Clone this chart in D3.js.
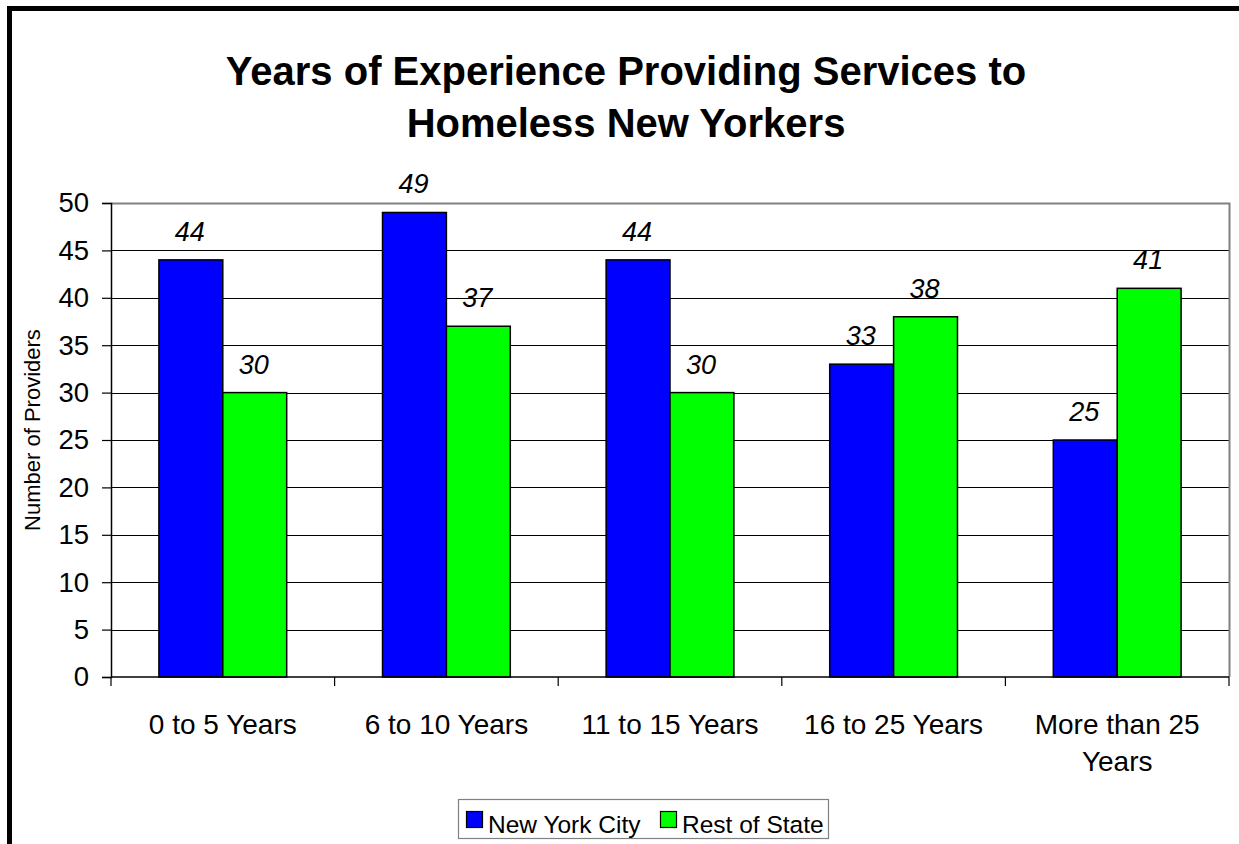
<!DOCTYPE html>
<html>
<head>
<meta charset="utf-8">
<script src="https://cdn.jsdelivr.net/npm/d3@7"></script>
<style>
  html, body { margin: 0; padding: 0; background: #fff; }
  svg { display: block; font-family: "Liberation Sans", Arial, sans-serif; }
</style>
</head>
<body>
<svg id="chart" width="1239" height="844"></svg>
<script>
// Data
const categories = ["0 to 5 Years", "6 to 10 Years", "11 to 15 Years", "16 to 25 Years", "More than 25 Years"];
const seriesNames = ["New York City", "Rest of State"];
const nycValues = [44, 49, 44, 33, 25];
const restValues = [30, 37, 30, 38, 41];
const yTicks = [0, 5, 10, 15, 20, 25, 30, 35, 40, 45, 50];
const titleLines = ["Years of Experience Providing Services to", "Homeless New Yorkers"];
const yAxisTitle = "Number of Providers";

const seriesColors = ["#0000FF", "#00FF00"];
const seriesValues = [nycValues, restValues];

const svg = d3.select("#chart");

// Outer frame
svg.append("rect")
  .attr("x", 9.5).attr("y", 8.5)
  .attr("width", 1300).attr("height", 900)
  .attr("fill", "#fff").attr("stroke", "#000").attr("stroke-width", 5);

// Plot area geometry
const plot = { left: 111, right: 1229, top: 203, bottom: 677 };

const x = d3.scaleBand().domain(categories).range([plot.left, plot.right]).paddingInner(0).paddingOuter(0);
const y = d3.scaleLinear().domain([0, 50]).range([plot.bottom, plot.top]);

// Two bars per category with a 150% gap width
const barW = x.bandwidth() / 3.5;
const xSub = d3.scaleBand().domain(seriesNames)
  .range([(x.bandwidth() - 2 * barW) / 2, (x.bandwidth() + 2 * barW) / 2]);

// Title
svg.append("g").selectAll("text").data(titleLines).join("text")
  .attr("x", 626).attr("y", (d, i) => 85 + i * 52)
  .attr("text-anchor", "middle")
  .attr("font-size", 40).attr("font-weight", "bold")
  .attr("fill", "#000")
  .text(d => d);

// Gridlines
svg.append("g").selectAll("line").data(yTicks.filter(t => t > 0 && t < 50)).join("line")
  .attr("x1", plot.left).attr("x2", plot.right)
  .attr("y1", d => Math.round(y(d)) + 0.5).attr("y2", d => Math.round(y(d)) + 0.5)
  .attr("stroke", "#000").attr("stroke-width", 1);

// Plot area border (top and right)
svg.append("path")
  .attr("d", `M${plot.left},${plot.top + 0.5}H${plot.right + 0.5}V${plot.bottom}`)
  .attr("fill", "none").attr("stroke", "#808080").attr("stroke-width", 2);

// Bars
const rows = categories.map((c, i) => seriesNames.map((s, j) => ({ cat: c, series: s, value: seriesValues[j][i], color: seriesColors[j] })));
const groups = svg.append("g").selectAll("g").data(rows).join("g")
  .attr("transform", (d, i) => `translate(${x(categories[i])},0)`);

groups.selectAll("rect").data(d => d).join("rect")
  .attr("x", d => xSub(d.series))
  .attr("width", xSub.bandwidth())
  .attr("y", d => y(d.value))
  .attr("height", d => y(0) - y(d.value))
  .attr("fill", d => d.color)
  .attr("stroke", "#000").attr("stroke-width", 1.5);

// Value labels
groups.selectAll("text").data(d => d).join("text")
  .attr("x", d => xSub(d.series) + xSub.bandwidth() / 2 - 1)
  .attr("y", d => y(d.value) - 19)
  .attr("text-anchor", "middle")
  .attr("font-size", 27).attr("font-style", "italic")
  .attr("fill", "#000")
  .text(d => d.value);

// Y axis
const yAxis = svg.append("g")
  .attr("transform", `translate(${plot.left},0)`)
  .call(d3.axisLeft(y).tickValues(yTicks).tickSize(9).tickPadding(13).tickFormat(d3.format("d")));
yAxis.select(".domain").attr("stroke", "#000").attr("stroke-width", 1.5);
yAxis.selectAll(".tick line").attr("stroke", "#000").attr("stroke-width", 1.2);
yAxis.selectAll(".tick text")
  .attr("font-size", 27.5).attr("font-family", "Liberation Sans, Arial, sans-serif").attr("fill", "#000");

// X axis baseline and category boundary ticks
const xAxis = svg.append("g").attr("transform", `translate(0,${plot.bottom})`);
xAxis.append("line")
  .attr("x1", plot.left).attr("x2", plot.right)
  .attr("stroke", "#000").attr("stroke-width", 1.5);
const bounds = categories.map(c => x(c)).concat([x.range()[1]]);
xAxis.selectAll("line.bound").data(bounds).join("line")
  .attr("class", "bound")
  .attr("x1", d => d).attr("x2", d => d)
  .attr("y1", 0).attr("y2", 9)
  .attr("stroke", "#000").attr("stroke-width", 1.2);

// Category labels with wrapping
const catLabels = xAxis.selectAll("text.cat").data(categories).join("text")
  .attr("class", "cat")
  .attr("x", d => x(d) + x.bandwidth() / 2)
  .attr("y", 57)
  .attr("text-anchor", "middle")
  .attr("font-size", 28).attr("fill", "#000");

catLabels.each(function (d) {
  const el = d3.select(this);
  const words = d.split(" ");
  const cx = x(d) + x.bandwidth() / 2;
  const maxW = x.bandwidth() - 12;
  let line = [];
  let lines = [];
  const probe = el.append("tspan");
  words.forEach(w => {
    const trial = line.concat([w]).join(" ");
    probe.text(trial);
    if (probe.node().getComputedTextLength() > maxW && line.length) {
      lines.push(line.join(" "));
      line = [w];
    } else {
      line.push(w);
    }
  });
  lines.push(line.join(" "));
  probe.remove();
  lines.forEach((l, i) => {
    el.append("tspan").attr("x", cx).attr("dy", i === 0 ? 0 : 37).text(l);
  });
});

// Y axis title
svg.append("text")
  .attr("transform", "translate(40,430) rotate(-90)")
  .attr("text-anchor", "middle")
  .attr("font-size", 22).attr("fill", "#000")
  .text(yAxisTitle);

// Legend
const legend = svg.append("g").attr("transform", "translate(458,799)");
legend.append("rect")
  .attr("x", 0.5).attr("y", 0.5).attr("width", 370).attr("height", 39)
  .attr("fill", "#fff").attr("stroke", "#808080").attr("stroke-width", 1.2);
const legendX = [8, 202];
const items = legend.selectAll("g.item").data(seriesNames).join("g")
  .attr("class", "item")
  .attr("transform", (d, i) => `translate(${legendX[i]},0)`);
items.append("rect")
  .attr("x", 0.5).attr("y", 12.5).attr("width", 16).attr("height", 16)
  .attr("fill", (d, i) => seriesColors[i])
  .attr("stroke", "#000").attr("stroke-width", 1.2);
items.append("text")
  .attr("x", 22).attr("y", 34)
  .attr("font-size", 24.5).attr("fill", "#000")
  .text(d => d);
</script>
</body>
</html>
